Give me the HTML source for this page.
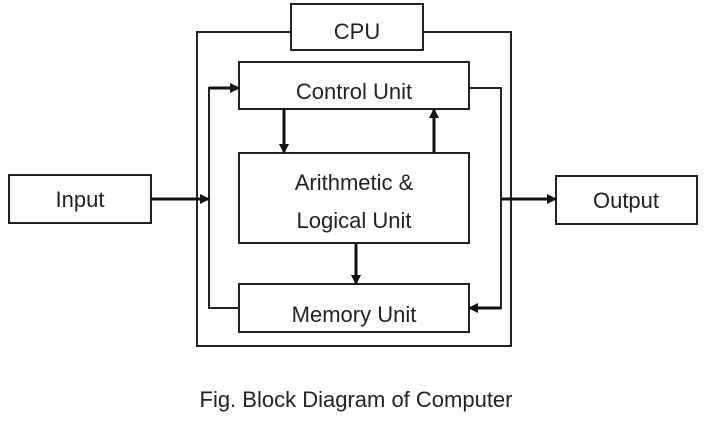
<!DOCTYPE html>
<html><head><style>
html,body{margin:0;padding:0;background:#fff;width:710px;height:436px;overflow:hidden}
svg text{font-family:"Liberation Sans",sans-serif;fill:#222}
</style></head><body>
<svg width="710" height="436" viewBox="0 0 710 436" xmlns="http://www.w3.org/2000/svg">
<defs><marker id="a" markerWidth="10" markerHeight="10" refX="9" refY="5" orient="auto" markerUnits="userSpaceOnUse"><path d="M0,0 L10,5 L0,10 z" fill="#111"/></marker></defs>
<g fill="none" stroke="#222" stroke-width="2">
<path d="M291,32 H197 V346 H511 V32 H423"/>
<rect x="291" y="4" width="132" height="46" fill="#fff"/>
<rect x="239" y="62" width="230" height="47"/>
<rect x="239" y="153" width="230" height="90"/>
<rect x="239" y="284" width="230" height="48"/>
<rect x="9" y="175" width="142" height="48"/>
<rect x="556" y="176" width="141" height="48"/>
<path d="M239,308 H209 V88 H229" />
<path d="M469,88 H501 V308 H479"/>
</g>
<g stroke="#111" stroke-width="3" fill="none">
<line x1="151" y1="199" x2="209" y2="199" marker-end="url(#a)"/>
<line x1="501" y1="199" x2="556" y2="199" marker-end="url(#a)"/>
<line x1="209" y1="88" x2="239" y2="88" marker-end="url(#a)"/>
<line x1="501" y1="308" x2="469" y2="308" marker-end="url(#a)"/>
<line x1="284" y1="109" x2="284" y2="153" marker-end="url(#a)"/>
<line x1="434" y1="153" x2="434" y2="109" marker-end="url(#a)"/>
<line x1="356" y1="243" x2="356" y2="284" marker-end="url(#a)"/>
</g>
<g font-size="22" text-anchor="middle">
<text x="357" y="39">CPU</text>
<text x="354" y="99">Control Unit</text>
<text x="354" y="190">Arithmetic &amp;</text>
<text x="354" y="228">Logical Unit</text>
<text x="354" y="322">Memory Unit</text>
<text x="80" y="207">Input</text>
<text x="626" y="208">Output</text>
<text x="356" y="407">Fig. Block Diagram of Computer</text>
</g>
</svg>
</body></html>
